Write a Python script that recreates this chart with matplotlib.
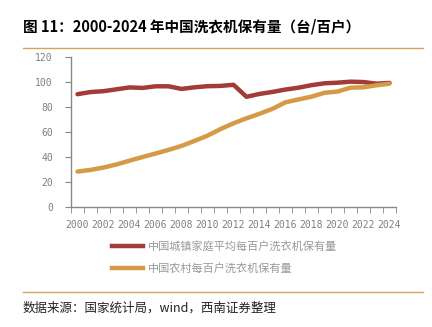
import matplotlib
matplotlib.use("Agg")
import numpy as np
import matplotlib.pyplot as plt
from matplotlib.lines import Line2D

plt.rcParams['font.family'] = ['Noto Sans CJK SC', 'DejaVu Sans']

years = list(range(2000, 2025))
urban = [90.5, 92.2, 92.9, 94.4, 95.9, 95.5, 96.8, 96.8, 94.7, 96.0, 96.9, 97.1,
         98.0, 88.4, 90.7, 92.3, 94.2, 95.7, 97.7, 99.2, 99.7, 100.5, 100.2, 98.9, 99.5]
rural = [28.6, 29.9, 31.8, 34.3, 37.3, 40.2, 43.0, 45.9, 49.1, 53.1, 57.3, 62.6,
         67.2, 71.2, 74.8, 78.8, 84.0, 86.3, 88.5, 91.6, 92.6, 95.7, 96.0, 97.6, 98.9]
labels = ["中国城镇家庭平均每百户洗衣机保有量", "中国农村每百户洗衣机保有量"]
title = "图 11：2000-2024 年中国洗衣机保有量（台/百户）"
source = "数据来源：国家统计局，wind，西南证券整理"

red = "#A33B36"
gold = "#D49A45"
grey = "#888888"

fig = plt.figure(figsize=(4.32, 3.27), dpi=100)
ax = fig.add_axes([71/432, 1 - 207.3/327, 325/432, 150/327])

ax.plot(years, urban, color=red, lw=3.2, solid_capstyle="round")
ax.plot(years, rural, color=gold, lw=3.2, solid_capstyle="round")

ax.set_xlim(1999.5, 2024.5)
ax.set_ylim(0, 120)
ax.set_yticks(range(0, 121, 20))
ax.set_xticks(range(2000, 2025, 2))
ax.set_xticks(np.arange(1999.5, 2025, 1), minor=True)
ax.tick_params(axis="x", which="major", length=0, pad=9)
ax.tick_params(axis="x", which="minor", length=4, color=grey, direction="out")
ax.tick_params(axis="y", length=4, color=grey, pad=9)
for lab in ax.get_xticklabels() + ax.get_yticklabels():
    lab.set_family("DejaVu Sans Mono")
    lab.set_fontsize(7)
    lab.set_color("#808080")

for s in ["top", "right"]:
    ax.spines[s].set_visible(False)
for s in ["left", "bottom"]:
    ax.spines[s].set_color(grey)
    ax.spines[s].set_linewidth(1)

handles = [Line2D([], [], color=red, lw=3.2), Line2D([], [], color=gold, lw=3.2)]
fig.legend(handles, labels, loc="upper left", bbox_to_anchor=(109/432, 1 - 238/327),
           frameon=False, fontsize=8, handlelength=2.8, handletextpad=0.4,
           labelspacing=0.95, labelcolor="#999999", borderaxespad=0, borderpad=0.3)

fig.text(23/432, 1 - 26/327, title, fontsize=10.5, fontweight="bold", va="center", ha="left")
fig.add_artist(Line2D([23/432, 423/432], [1 - 48/327] * 2, color="#D4A55A", lw=1))
fig.add_artist(Line2D([23/432, 423/432], [1 - 292/327] * 2, color="#D4A55A", lw=1))
fig.text(23/432, 1 - 308/327, source, fontsize=9, style="italic", va="center", ha="left",
         color="#222222")

fig.savefig("out.png", dpi=100)
